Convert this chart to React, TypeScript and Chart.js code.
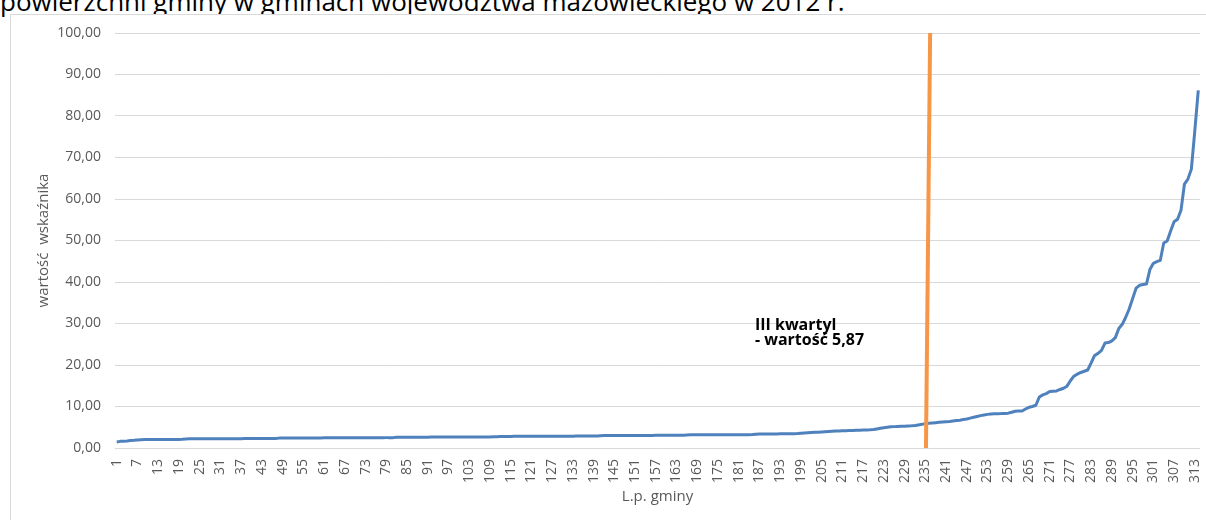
import { useEffect, useRef } from 'react';
import { Chart, registerables } from 'chart.js';

Chart.register(...registerables);

// Wartość wskaźnika dla kolejnych gmin (posortowane rosnąco), L.p. 1..314
const values: number[] = [
  1.45, 1.6, 1.65, 1.7, 1.8, 1.85, 1.95, 2.0,
  2.02, 2.03, 2.03, 2.04, 2.04, 2.05, 2.05, 2.06, 2.06, 2.07, 2.07, 2.08,
  2.15,
  2.2, 2.2, 2.21, 2.21, 2.22, 2.22, 2.22, 2.23, 2.23, 2.23, 2.24, 2.24, 2.24, 2.25, 2.25, 2.25, 2.26, 2.26, 2.26, 2.27, 2.27, 2.28, 2.28, 2.29, 2.29, 2.3,
  2.38,
  2.4, 2.4, 2.4, 2.41, 2.41, 2.41, 2.42, 2.42, 2.42, 2.43, 2.43, 2.43, 2.44, 2.44, 2.44, 2.45, 2.45, 2.45, 2.46, 2.46, 2.46, 2.47, 2.47, 2.47, 2.48, 2.48, 2.48, 2.49, 2.49, 2.49, 2.5, 2.5, 2.5,
  2.58,
  2.6, 2.6, 2.6, 2.61, 2.61, 2.61, 2.62, 2.62, 2.62, 2.63, 2.63, 2.63, 2.64, 2.64, 2.64, 2.65, 2.65, 2.65, 2.66, 2.66, 2.66, 2.67, 2.67, 2.67, 2.68, 2.68, 2.68, 2.69, 2.69,
  2.78,
  2.8, 2.8, 2.8, 2.81, 2.81, 2.81, 2.82, 2.82, 2.82, 2.83, 2.83, 2.83, 2.84, 2.84, 2.84, 2.85, 2.85, 2.85, 2.86, 2.86, 2.86, 2.87, 2.87, 2.87, 2.88, 2.88, 2.88, 2.89,
  2.96,
  3.0, 3.0, 3.0, 3.01, 3.01, 3.01, 3.02, 3.02, 3.02, 3.03, 3.03, 3.03, 3.04, 3.04, 3.04, 3.05, 3.05, 3.05, 3.06, 3.06, 3.06, 3.07, 3.07, 3.07,
  3.14,
  3.17, 3.17, 3.17, 3.18, 3.18, 3.18, 3.19, 3.19, 3.19, 3.2, 3.2, 3.2, 3.21, 3.21, 3.21, 3.22, 3.22, 3.22, 3.23,
  3.32,
  3.37, 3.38, 3.38, 3.39, 3.4, 3.4, 3.41, 3.42, 3.43, 3.44, 3.46,
  3.5, 3.56, 3.62, 3.67, 3.72, 3.77, 3.82, 3.87,
  3.93, 3.98, 4.03, 4.07, 4.1, 4.13, 4.17,
  4.21, 4.24, 4.27, 4.3, 4.33, 4.36, 4.4, 4.46,
  4.6, 4.75, 4.9, 5.0, 5.1,
  5.15, 5.2, 5.24, 5.27, 5.3, 5.34, 5.4, 5.55, 5.7,
  5.87,
  5.95, 6.02, 6.1, 6.18, 6.25, 6.32, 6.4, 6.5, 6.6,
  6.7, 6.85, 7.0, 7.2, 7.4, 7.6, 7.8, 7.95, 8.1, 8.2,
  8.25, 8.28, 8.3, 8.34, 8.4, 8.6, 8.85, 8.9, 8.92,
  9.4, 9.8, 10.0, 10.3, 12.3, 12.8, 13.1,
  13.6, 13.7, 13.75, 14.1, 14.4, 14.9,
  16.2, 17.3, 17.8, 18.2, 18.5, 18.8, 20.5,
  22.3, 22.8, 23.5, 25.3, 25.4, 25.8, 26.6,
  28.8, 29.8, 31.5, 33.5, 36.0, 38.5,
  39.2, 39.4, 39.5, 43.0, 44.5, 44.9,
  45.2, 49.4, 49.9, 52.3, 54.5, 55.1, 57.3,
  63.6, 64.8, 67.2, 76.5, 86.2,
];

const xTickLabels: number[] = [
  1, 7, 13, 19, 25, 31, 37, 43, 49, 55, 61, 67, 73, 79, 85, 91, 97, 103, 109,
  115, 121, 127, 133, 139, 145, 151, 157, 163, 169, 175, 181, 187, 193, 199,
  205, 211, 217, 223, 229, 235, 241, 247, 253, 259, 265, 271, 277, 283, 289,
  295, 301, 307, 313,
];

// Linia III kwartyla (L.p., wartość)
const quartileLineX: number[] = [235.2, 236.4];
const quartileLineY: number[] = [0, 100];

// Opis kwartyla
const annotationLines: string[] = ['III kwartyl', '- wartość 5,87'];
const annotationX = 185.7;
const annotationY: number[] = [28.4, 24.8];

const titleText = 'powierzchni gminy w gminach województwa mazowieckiego w 2012 r.';
const yAxisTitle = 'wartość  wskaźnika';
const xAxisTitle = 'L.p. gminy';

const FONT = '"Open Sans", "Noto Sans", sans-serif';
const GRAY = '#595959';

export default function App() {
  const canvasRef = useRef<HTMLCanvasElement | null>(null);

  useEffect(() => {
    const canvas = canvasRef.current;
    if (!canvas) return;

    const annotationPlugin = {
      id: 'quartileAnnotation',
      afterDatasetsDraw(chart: any) {
        const ctx = chart.ctx;
        const xs = chart.scales.x;
        const ys = chart.scales.y;
        ctx.save();
        ctx.font = `bold 16px ${FONT}`;
        ctx.fillStyle = '#000000';
        ctx.textAlign = 'left';
        ctx.textBaseline = 'alphabetic';
        const px = xs.getPixelForValue(annotationX);
        annotationLines.forEach((line, k) => {
          ctx.fillText(line, px, ys.getPixelForValue(annotationY[k]));
        });
        ctx.restore();
      },
    };

    const chart = new Chart(canvas, {
      type: 'line',
      data: {
        datasets: [
          {
            label: 'III kwartyl',
            data: quartileLineX.map((x, k) => ({ x, y: quartileLineY[k] })),
            borderColor: '#F79646',
            borderWidth: 4,
            pointRadius: 0,
            borderCapStyle: 'butt',
            order: 0,
          },
          {
            label: 'wartość wskaźnika',
            data: values.map((v, k) => ({ x: k + 1, y: v })),
            borderColor: '#4F81BD',
            borderWidth: 3,
            pointRadius: 0,
            tension: 0,
            borderJoinStyle: 'round',
            order: 1,
          },
        ],
      },
      options: {
        responsive: false,
        animation: false,
        devicePixelRatio: 1,
        layout: { padding: { left: 0, top: 18, right: 6, bottom: 0 } },
        plugins: {
          legend: { display: false },
          tooltip: { enabled: false },
          title: { display: false },
        },
        scales: {
          x: {
            type: 'linear',
            min: 0.5,
            max: 314.5,
            afterBuildTicks: (s: any) => {
              s.ticks = xTickLabels.map((v) => ({ value: v }));
            },
            afterFit: (s: any) => {
              s.height = 72;
              s.paddingLeft = 0;
              s.paddingRight = 0;
            },
            ticks: {
              autoSkip: false,
              minRotation: 90,
              maxRotation: 90,
              padding: 11,
              color: GRAY,
              font: { family: FONT, size: 14 },
              callback: (v: any) => String(v),
            },
            grid: { display: false, drawTicks: false },
            border: { display: false },
            title: {
              display: true,
              text: xAxisTitle,
              color: GRAY,
              font: { family: FONT, size: 15 },
              padding: { top: 0, bottom: 14 },
            },
          },
          y: {
            type: 'linear',
            min: 0,
            max: 100,
            afterFit: (s: any) => {
              s.width = 104;
              s.paddingTop = 0;
              s.paddingBottom = 0;
            },
            ticks: {
              stepSize: 10,
              padding: 14,
              color: GRAY,
              font: { family: FONT, size: 14 },
              callback: (v: any) => Number(v).toFixed(2).replace('.', ','),
            },
            grid: { color: '#D9D9D9', lineWidth: 1, drawTicks: false },
            border: { display: false },
            title: {
              display: true,
              text: yAxisTitle,
              color: GRAY,
              font: { family: FONT, size: 15 },
              padding: { top: 24, bottom: 0 },
            },
          },
        },
      },
      plugins: [annotationPlugin],
    } as any);

    return () => {
      chart.destroy();
    };
  }, []);

  return (
    <div
      style={{
        position: 'fixed',
        left: 0,
        top: 0,
        width: 1206,
        height: 520,
        overflow: 'hidden',
        background: '#ffffff',
      }}
    >
      <div
        style={{
          position: 'absolute',
          left: 0,
          top: -12,
          fontFamily: FONT,
          fontSize: 26,
          lineHeight: '26px',
          whiteSpace: 'nowrap',
          color: '#000000',
        }}
      >
        {titleText}
      </div>
      <div
        style={{
          position: 'absolute',
          left: 10,
          top: 14,
          width: 1200,
          height: 520,
          border: '1px solid #D9D9D9',
          boxSizing: 'border-box',
          background: '#ffffff',
        }}
      />
      <div style={{ position: 'absolute', left: 11, top: 15, width: 1195, height: 505 }}>
        <canvas ref={canvasRef} width={1195} height={505} style={{ display: 'block' }} />
      </div>
    </div>
  );
}
